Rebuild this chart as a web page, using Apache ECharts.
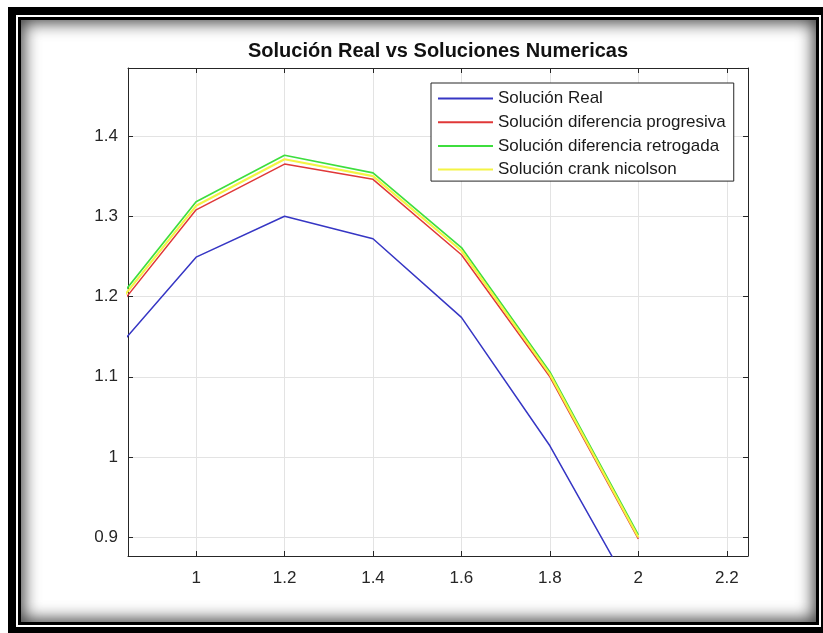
<!DOCTYPE html>
<html>
<head>
<meta charset="utf-8">
<script src="https://cdn.jsdelivr.net/npm/echarts@6/dist/echarts.min.js"></script>
<style>
  html, body { margin:0; padding:0; background:#fff; width:823px; height:633px; overflow:hidden; }
  .f { position:absolute; }
  #f1 { left:8px; top:7px; width:815px; height:626px; background:#000; }
  #f2 { left:16px; top:15px; width:805px; height:612px; background:#fff; }
  #f3 { left:18px; top:17px; width:801px; height:608px; background:#000; }
  #f4 { left:21px; top:20px; width:795px; height:602px; background:#fff; box-shadow: inset 0 0 16px 3px rgba(0,0,0,0.75); }
  #chart { position:absolute; left:0; top:0; width:823px; height:633px; }
</style>
</head>
<body>
<div class="f" id="f1"></div>
<div class="f" id="f2"></div>
<div class="f" id="f3"></div>
<div class="f" id="f4"></div>
<div id="chart"></div>
<script>
const xValues = [0.8, 1.0, 1.2, 1.4, 1.6, 1.8, 2.0];
const solReal = [1.122, 1.249, 1.300, 1.272, 1.174, 1.014, 0.818];
const solProgresiva = [1.170, 1.308, 1.365, 1.346, 1.252, 1.100, 0.898];
const solRetrogada = [1.180, 1.318, 1.376, 1.354, 1.261, 1.106, 0.903];
const solCrank = [1.175, 1.313, 1.371, 1.350, 1.257, 1.103, 0.900];
const xTicks = [1, 1.2, 1.4, 1.6, 1.8, 2, 2.2];
const yTicks = [0.9, 1, 1.1, 1.2, 1.3, 1.4];
const seriesNames = ['Solución Real', 'Solución diferencia progresiva', 'Solución diferencia retrogada', 'Solución crank nicolson'];
const titleText = 'Solución Real vs Soluciones Numericas';

const X_MIN = 0.846, X_MAX = 2.248, Y_MIN = 0.8767, Y_MAX = 1.4847;
const font = 'Liberation Sans, Arial, sans-serif';
const axisColor = '#262626';
const fmt = v => String(+(+v).toFixed(2));

function pairs(ys) { return xValues.map((x, i) => [x, ys[i]]); }

const baseAxis = (extra) => Object.assign({
  type: 'value',
  axisLine: { show: true, onZero: false, lineStyle: { color: axisColor, width: 1 } },
  axisTick: { show: true, inside: true, length: 5, lineStyle: { color: axisColor } },
  axisLabel: { show: false },
  splitLine: { show: false }
}, extra);

const chart = echarts.init(document.getElementById('chart'), null, { renderer: 'canvas' });
const colors = ['#3636c4', '#e03838', '#3ede3e', '#f4f444'];
const widths = [1.5, 1.5, 1.7, 2.2];
const datasets = [solReal, solProgresiva, solRetrogada, solCrank];

chart.setOption({
  backgroundColor: 'transparent',
  animation: false,
  textStyle: { fontFamily: font },
  graphic: [{
    type: 'text', x: 438, y: 51,
    style: { text: titleText, font: 'bold 20px ' + font, fill: '#111', textAlign: 'center', textVerticalAlign: 'middle' }
  }],
  grid: { left: 128, top: 68, width: 620, height: 488, containLabel: false, show: false },
  legend: {
    orient: 'vertical', left: 431, top: 83,
    itemStyle: { opacity: 0 },
    itemWidth: 55, itemHeight: 14, itemGap: 6.7,
    padding: [7, 8, 3, 6],
    backgroundColor: '#fff', borderColor: axisColor, borderWidth: 1,
    textStyle: { fontSize: 17, color: '#1a1a1a', fontFamily: font },
    data: seriesNames
  },
  xAxis: [
    baseAxis({
      min: X_MIN, max: X_MAX, position: 'bottom',
      axisTick: { show: true, inside: true, length: 5, lineStyle: { color: axisColor }, customValues: xTicks },
      axisLabel: { show: true, customValues: xTicks, formatter: fmt, fontSize: 17, color: '#262626', margin: 14, fontFamily: font },
      splitLine: { show: true, lineStyle: { color: '#e3e3e3', width: 1 } }
    }),
    baseAxis({
      min: X_MIN, max: X_MAX, position: 'top',
      axisTick: { show: true, inside: true, length: 5, lineStyle: { color: axisColor }, customValues: xTicks }
    })
  ],
  yAxis: [
    baseAxis({
      min: Y_MIN, max: Y_MAX, position: 'left',
      axisTick: { show: true, inside: true, length: 5, lineStyle: { color: axisColor }, customValues: yTicks },
      axisLabel: { show: true, customValues: yTicks, formatter: fmt, fontSize: 17, color: '#262626', margin: 10, fontFamily: font },
      splitLine: { show: true, lineStyle: { color: '#e3e3e3', width: 1 } }
    }),
    baseAxis({
      min: Y_MIN, max: Y_MAX, position: 'right',
      axisTick: { show: true, inside: true, length: 5, lineStyle: { color: axisColor }, customValues: yTicks }
    })
  ],
  series: seriesNames.map((name, i) => ({
    name, type: 'line', xAxisIndex: 0, yAxisIndex: 0,
    data: pairs(datasets[i]),
    symbol: 'none', showSymbol: false, clip: true,
    color: colors[i],
    lineStyle: { color: colors[i], width: widths[i] },
    z: 2 + i
  }))
});
</script>
</body>
</html>
